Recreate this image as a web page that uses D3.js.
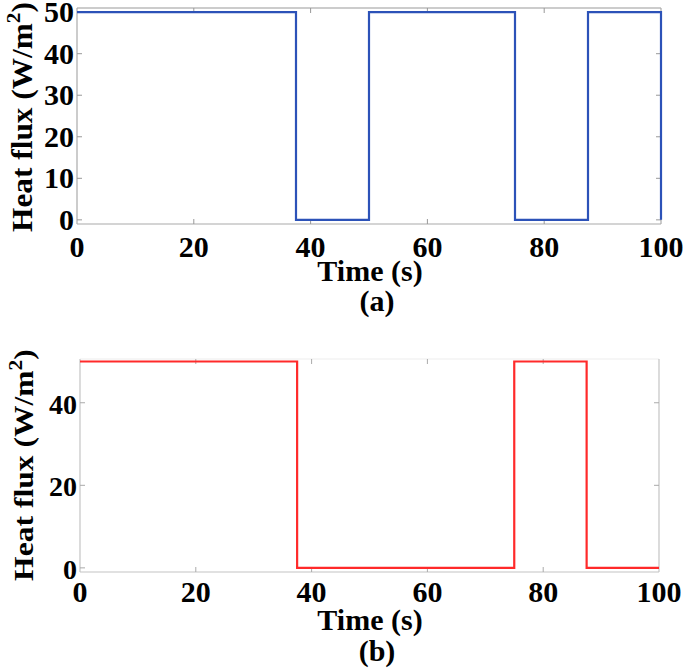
<!DOCTYPE html>
<html>
<head>
<meta charset="utf-8">
<script src="https://cdn.jsdelivr.net/npm/d3@7"></script>
<style>
  body { margin: 0; background: #fff; }
  svg { display: block; }
  text { font-family: "Liberation Serif", "Times New Roman", serif; font-weight: bold; fill: #000; }
</style>
</head>
<body>
<svg id="chart" width="685" height="669"></svg>
<script>
// square wave heat flux, case (a)
var timeA = [0, 37.5, 37.5, 50, 50, 75, 75, 87.5, 87.5, 100, 100];
var fluxA = [50, 50, 0, 0, 50, 50, 0, 0, 50, 50, 0];
// case (b)
var timeB = [0, 37.5, 37.5, 75, 75, 87.5, 87.5, 100];
var fluxB = [50, 50, 0, 0, 50, 50, 0, 0];

var xTicks = [0, 20, 40, 60, 80, 100];
var yTicksA = [0, 10, 20, 30, 40, 50];
var yTicksB = [0, 20, 40];

var svg = d3.select("#chart");

function hText(g, x, y, str, anchor, fs){
  return g.append("text")
    .attr("x", x).attr("y", y)
    .attr("text-anchor", anchor || "middle")
    .style("font-size", (fs || 30) + "px")
    .text(str);
}

function yLabel(g, x, y, fs, stretch){
  var t = g.append("text")
    .attr("transform", "translate(" + x + "," + y + ") rotate(-90) scale(" + stretch + ",1)")
    .attr("text-anchor", "middle")
    .style("font-size", fs + "px");
  t.append("tspan").text("Heat flux (W/m");
  t.append("tspan").attr("dy", -fs * 0.4).style("font-size", (fs * 0.68) + "px").text("2");
  t.append("tspan").attr("dy", fs * 0.4).text(")");
}

function panel(cfg){
  var g = svg.append("g");
  var x = d3.scaleLinear().domain([0, 100]).range([cfg.left, cfg.right]);
  var y = d3.scaleLinear().domain(cfg.ydom).range([cfg.bottom, cfg.top]);

  // box
  g.append("line").attr("x1", cfg.left).attr("x2", cfg.right).attr("y1", cfg.top).attr("y2", cfg.top)
    .attr("stroke", cfg.topCol).attr("stroke-width", 1.2);
  g.append("line").attr("x1", cfg.left).attr("x2", cfg.right).attr("y1", cfg.bottom).attr("y2", cfg.bottom)
    .attr("stroke", cfg.axCol).attr("stroke-width", 1.2);
  g.append("line").attr("x1", cfg.left).attr("x2", cfg.left).attr("y1", cfg.top).attr("y2", cfg.bottom)
    .attr("stroke", cfg.axCol).attr("stroke-width", 1.2);
  g.append("line").attr("x1", cfg.right).attr("x2", cfg.right).attr("y1", cfg.top).attr("y2", cfg.bottom)
    .attr("stroke", cfg.axCol).attr("stroke-width", 1.2);

  // inward ticks, both sides
  xTicks.forEach(function(d){
    if (d == 0 || d == 100) return;
    g.append("line").attr("x1", x(d)).attr("x2", x(d)).attr("y1", cfg.bottom).attr("y2", cfg.bottom - 5).attr("stroke", cfg.tickCol);
    g.append("line").attr("x1", x(d)).attr("x2", x(d)).attr("y1", cfg.top).attr("y2", cfg.top + 5).attr("stroke", cfg.tickCol);
  });
  cfg.yTicks.forEach(function(d){
    g.append("line").attr("x1", cfg.left).attr("x2", cfg.left + 5).attr("y1", y(d)).attr("y2", y(d)).attr("stroke", cfg.tickCol);
    g.append("line").attr("x1", cfg.right).attr("x2", cfg.right - 5).attr("y1", y(d)).attr("y2", y(d)).attr("stroke", cfg.tickCol);
  });

  var line = d3.line().x(function(d){ return x(d[0]); }).y(function(d){ return y(d[1]); });
  g.append("path")
    .datum(d3.zip(cfg.t, cfg.v))
    .attr("d", line)
    .attr("fill", "none")
    .attr("stroke", cfg.color)
    .attr("stroke-width", 2.2);

  // tick labels
  xTicks.forEach(function(d){
    hText(g, x(d), cfg.xLabY, d, "middle", 30);
  });
  cfg.yTicks.forEach(function(d){
    hText(g, cfg.left - 3, y(d) + cfg.yLabOff, d, "end", cfg.yFs);
  });

  hText(g, 370, cfg.titleY, "Time (s)", "middle", 30);
  hText(g, 377, cfg.capY, cfg.cap, "middle", 30);
  yLabel(g, cfg.yLabX, cfg.yLabY, cfg.labFs, cfg.labStretch);
}

panel({
  left: 77, right: 661, top: 8, bottom: 224, ydom: [-1, 51],
  t: timeA, v: fluxA, color: "#2c52b8", yTicks: yTicksA,
  topCol: "#999", axCol: "#aaa", tickCol: "#999",
  xLabY: 257, titleY: 281, capY: 311, cap: "(a)",
  yFs: 30, yLabOff: 10, yLabX: 32, yLabY: 117, labFs: 29, labStretch: 1.08
});

panel({
  left: 80, right: 659, top: 359, bottom: 572, ydom: [-1, 50.6],
  t: timeB, v: fluxB, color: "#ff2a2a", yTicks: yTicksB,
  topCol: "#eee", axCol: "#c4c4c4", tickCol: "#aaa",
  xLabY: 602, titleY: 630, capY: 661, cap: "(b)",
  yFs: 28, yLabOff: 11, yLabX: 33, yLabY: 465, labFs: 27, labStretch: 1.17
});
</script>
</body>
</html>
